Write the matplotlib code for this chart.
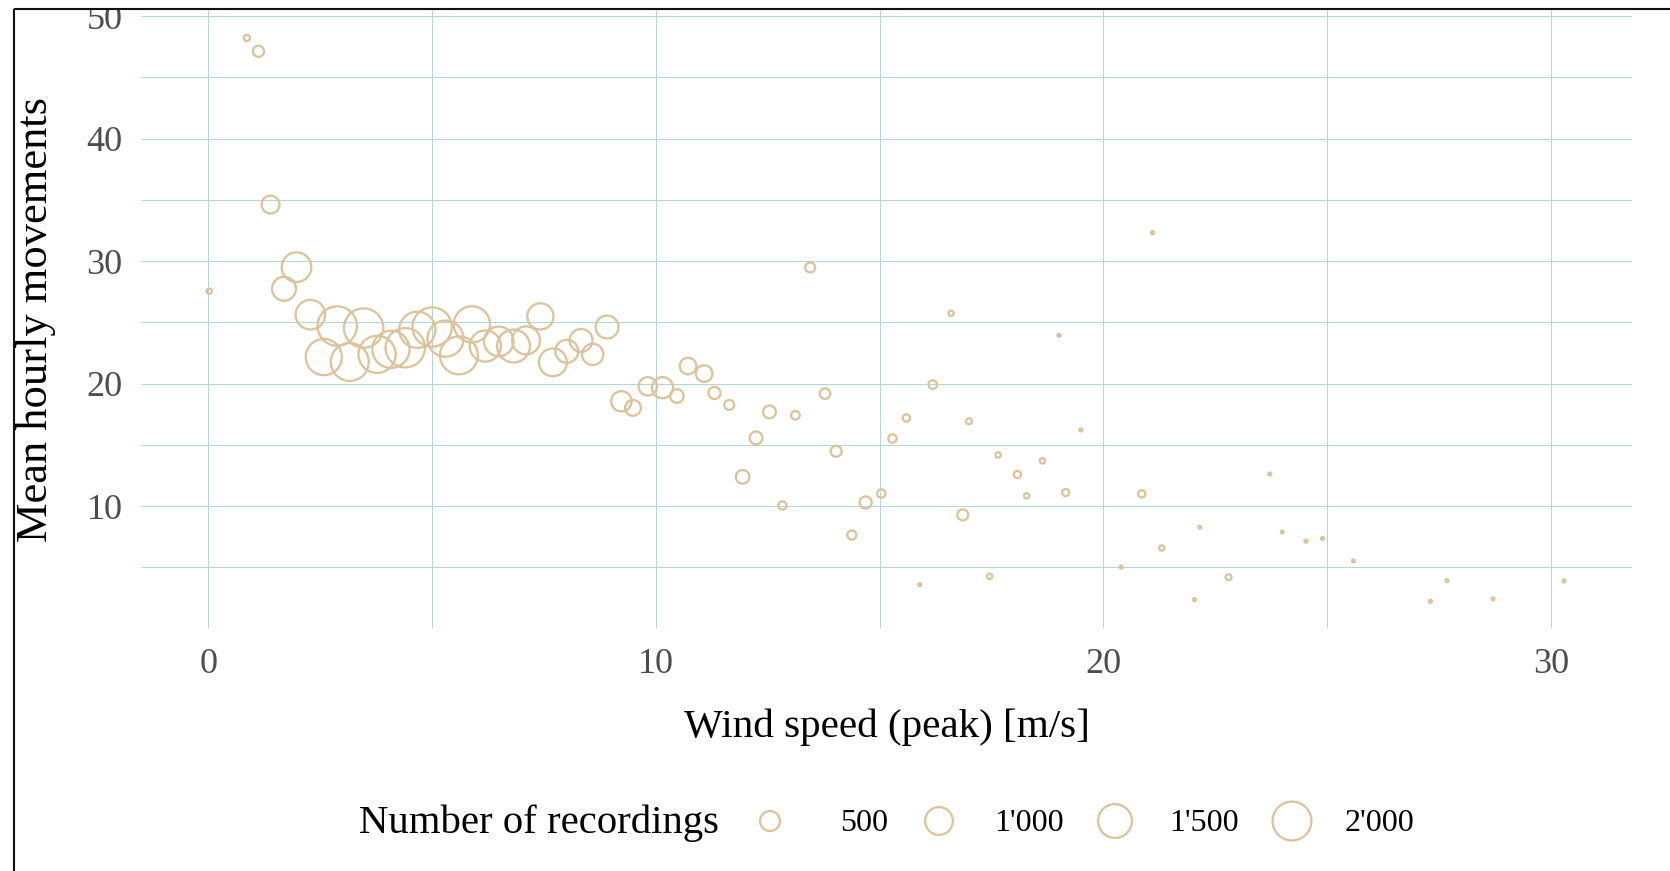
import matplotlib
matplotlib.use("Agg")
import matplotlib.pyplot as plt
import numpy as np

plt.rcParams['font.family'] = ['Liberation Serif', 'DejaVu Serif']

# ---- data ----
wind_speed = [0.02, 0.86, 1.12, 1.39, 1.69, 1.97, 2.28, 2.58, 2.88, 3.16,
              3.47, 3.77, 4.08, 4.40, 4.67, 5.00, 5.30, 5.60, 5.89, 6.19,
              6.49, 6.82, 7.10, 7.42, 7.70, 8.01, 8.33, 8.59, 8.91, 9.23,
              9.49, 9.82, 10.15, 10.47, 10.72, 11.08, 11.31, 11.64, 11.94, 12.24,
              12.54, 12.83, 13.12, 13.45, 13.78, 14.03, 14.38, 14.69, 15.04, 15.29,
              15.60, 15.90, 16.19, 16.60, 16.86, 17.00, 17.46, 17.65, 18.08, 18.29,
              18.64, 19.01, 19.16, 19.50, 20.40, 20.86, 21.10, 21.31, 22.04, 22.16,
              22.80, 23.72, 24.00, 24.53, 24.90, 25.59, 27.31, 27.68, 28.71, 30.30]
movements = [27.55, 48.22, 47.13, 34.62, 27.74, 29.51, 25.63, 22.17, 24.70, 21.77,
              24.54, 22.39, 22.80, 22.93, 24.40, 24.62, 23.67, 22.31, 24.84, 23.07,
              23.45, 23.07, 23.53, 25.49, 21.74, 22.64, 23.53, 22.39, 24.62, 18.56,
              18.02, 19.78, 19.67, 18.99, 21.44, 20.82, 19.24, 18.26, 12.39, 15.57,
              17.69, 10.05, 17.42, 29.48, 19.18, 14.48, 7.64, 10.30, 11.03, 15.52,
              17.20, 3.59, 19.92, 25.74, 9.29, 16.93, 4.27, 14.18, 12.58, 10.84,
              13.70, 23.94, 11.11, 16.22, 5.03, 11.00, 32.32, 6.59, 2.37, 8.28,
              4.20, 12.62, 7.90, 7.14, 7.36, 5.53, 2.23, 3.92, 2.43, 3.90]
recordings = [26, 39, 147, 400, 733, 1141, 1141, 1726, 2050, 1900,
              2050, 1825, 1825, 2050, 1726, 2050, 1726, 1900, 1726, 1272,
              1141, 1418, 1010, 887, 1010, 670, 670, 571, 670, 521,
              307, 424, 565, 223, 341, 341, 174, 112, 223, 196,
              196, 76, 82, 112, 130, 141, 93, 174, 76, 76,
              55, 6, 82, 26, 141, 35, 28, 28, 55, 28,
              28, 6, 55, 6, 6, 55, 6, 26, 6, 6,
              35, 6, 5, 6, 6, 6, 6, 6, 6, 6]

legend_values = [500, 1000, 1500, 2000]
legend_labels = ["500", "1'000", "1'500", "2'000"]
x_ticks = [0, 10, 20, 30]
y_ticks = [10, 20, 30, 40, 50]

# ---- style ----
POINT_COLOR = '#DBC49B'
GRID_COLOR = '#B2D7D7'
TICK_COLOR = '#4D4D4D'
LW_PX = 2.3
W, H = 1670, 871


def size_to_area(n):
    """area-like size scale: outer diameter in px -> marker area in pt^2"""
    n = np.asarray(n, dtype=float)
    d_px = 3.2 + 38.0 * np.sqrt(n / 2000.0)
    d_pt = (d_px - LW_PX) * 0.72
    return d_pt ** 2


fig = plt.figure(figsize=(W / 100, H / 100), dpi=100)
fig.patch.set_facecolor('white')

# main panel (pixel geometry of reference)
left, right, top, bottom = 141.7, 1631.7, 10.0, 628.4
ax = fig.add_axes([left / W, (H - bottom) / H, (right - left) / W, (bottom - top) / H])
ax.set_facecolor('white')
ax.scatter(wind_speed, movements, s=size_to_area(recordings),
           facecolors='none', edgecolors=POINT_COLOR, linewidths=LW_PX * 0.72,
           zorder=3, clip_on=False)
ax.set_xlim(-1.49, 31.81)
ax.set_ylim(0.02, 50.5)
ax.set_xticks(x_ticks)
ax.set_xticks([5, 15, 25], minor=True)
ax.set_yticks(y_ticks)
ax.set_yticks([5, 15, 25, 35, 45], minor=True)
ax.grid(which='both', color=GRID_COLOR, linewidth=0.75, zorder=0)
ax.set_axisbelow(True)
for sp in ax.spines.values():
    sp.set_visible(False)
ax.tick_params(axis='both', which='both', length=0, labelsize=26, labelcolor=TICK_COLOR)
ax.tick_params(axis='y', pad=13.7)
ax.tick_params(axis='x', pad=14)

# overlay in pixel coordinates for titles, legend and frame
ov = fig.add_axes([0, 0, 1, 1], zorder=10)
ov.set_xlim(0, W)
ov.set_ylim(H, 0)
ov.axis('off')
ov.patch.set_alpha(0)

ov.text((left + right) / 2, 727, 'Wind speed (peak) [m/s]', ha='center', va='center',
        fontsize=29.6, color='black')
ov.text(36, 319, 'Mean hourly movements', ha='center', va='center', rotation=90,
        fontsize=32, color='black')

# legend
ov.text(359, 823, 'Number of recordings', ha='left', va='center', fontsize=29.3, color='black')
leg_x = [770, 939, 1115, 1292]
lab_x = [840, 994, 1169, 1345]
ov.scatter(leg_x, [821] * 4, s=size_to_area(legend_values), facecolors='none',
           edgecolors=POINT_COLOR, linewidths=LW_PX * 0.72, clip_on=False)
for lx, lab in zip(lab_x, legend_labels):
    ov.text(lx, 823, lab, ha='left', va='center', fontsize=23, color='black')

# clipped top strip and frame lines
ov.add_patch(plt.Rectangle((0, 0), W, 8.5, facecolor='white', edgecolor='none', zorder=20))
ov.plot([13.5, W], [9, 9], color='#111111', lw=1.5, zorder=21, clip_on=False,
        solid_capstyle='butt')
ov.plot([13.5, 13.5], [9, H], color='#111111', lw=1.5, zorder=21, clip_on=False,
        solid_capstyle='butt')

fig.savefig('out.png', dpi=100, facecolor='white')
